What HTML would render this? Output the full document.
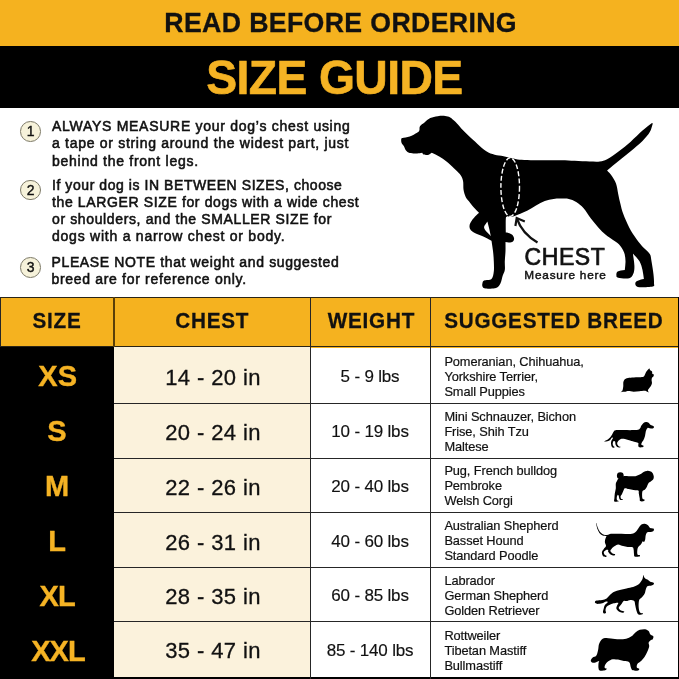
<!DOCTYPE html>
<html><head><meta charset="utf-8">
<style>
html,body{margin:0;padding:0;}
body{width:679px;height:679px;position:relative;overflow:hidden;background:#fff;font-family:"Liberation Sans",sans-serif;color:#111;}
.abs{position:absolute;white-space:nowrap;}
#top{left:0;top:0;width:679px;height:46px;background:#f5b21f;}
#band{left:0;top:45.5px;width:679px;height:62.5px;background:#000;}
#h1{left:164.3px;top:8px;font-weight:bold;font-size:26.7px;line-height:30px;letter-spacing:0.36px;color:#111;-webkit-text-stroke:0.3px #111;transform:scaleY(1.04);transform-origin:0 50%;}
#h2{left:206.2px;top:50.7px;font-weight:bold;font-size:46.3px;line-height:52px;color:#f5b324;letter-spacing:-0.6px;-webkit-text-stroke:0.6px #f5b324;transform:scaleY(1.04);transform-origin:0 50%;}
.ins{left:52px;font-size:14px;line-height:17.3px;letter-spacing:0.68px;color:#111;white-space:nowrap;-webkit-text-stroke:0.55px #111;}
.num{width:18.7px;height:18.7px;border-radius:50%;background:#f6f2da;border:1px solid #7d7a68;font-size:14px;line-height:19px;text-align:center;font-weight:normal;color:#111;-webkit-text-stroke:0.4px #111;}
/* table */
#thead{left:0;top:297px;width:679px;height:50.5px;background:#f5b21f;}
.hl{background:#2a2415;}
.th{top:309.1px;font-weight:bold;font-size:20.7px;line-height:24px;color:#111;letter-spacing:0.75px;-webkit-text-stroke:0.25px #111;transform:scaleY(1.04);transform-origin:0 50%;}
#sizecol{left:0;top:347.3px;width:114px;height:332px;background:#000;}
#chestcol{left:114px;top:347.3px;width:197px;height:330px;background:#fbf2dc;}
.sz{left:0;width:114px;text-align:center;font-weight:bold;font-size:29px;line-height:34px;color:#f5b324;-webkit-text-stroke:0.4px #f5b324;transform:scaleY(1.04);}
.ch{left:115px;width:196px;text-align:center;font-size:22px;line-height:24px;letter-spacing:0.4px;margin-top:0.5px;-webkit-text-stroke:0.3px #111;}
.wt{left:310px;width:120px;text-align:center;font-size:17px;line-height:20px;letter-spacing:-0.18px;margin-top:0.6px;-webkit-text-stroke:0.15px #111;}
.br{left:444.4px;font-size:12.8px;line-height:15.2px;letter-spacing:-0.1px;margin-top:0;-webkit-text-stroke:0.2px #111;}
.rl{left:114px;width:565px;height:1.3px;background:#262626;}
.vl{top:297px;width:1.4px;height:382px;background:#262626;}
</style></head><body>
<div class="abs" id="top"></div>
<div class="abs" id="band"></div>
<div class="abs" id="h1">READ BEFORE ORDERING</div>
<div class="abs" id="h2">SIZE GUIDE</div>

<div class="abs num" style="left:20.3px;top:121.2px;">1</div>
<div class="abs ins" style="top:118px;"><span style="letter-spacing:0.720px">ALWAYS MEASURE your dog’s chest using</span><br><span style="letter-spacing:0.705px">a tape or string around the widest part, just</span><br><span style="letter-spacing:0.730px">behind the front legs.</span></div>
<div class="abs num" style="left:20.3px;top:179.6px;">2</div>
<div class="abs ins" style="top:176.5px;"><span style="letter-spacing:0.565px">If your dog is IN BETWEEN SIZES, choose</span><br><span style="letter-spacing:0.630px">the LARGER SIZE for dogs with a wide chest</span><br><span style="letter-spacing:0.630px">or shoulders, and the SMALLER SIZE for</span><br><span style="letter-spacing:0.760px">dogs with a narrow chest or body.</span></div>
<div class="abs num" style="left:20.3px;top:257.3px;">3</div>
<div class="abs ins" style="top:254px;left:51.5px;line-height:17px;"><span style="letter-spacing:0.630px">PLEASE NOTE that weight and suggested</span><br><span style="letter-spacing:0.680px">breed are for reference only.</span></div>

<svg class="abs" style="left:0;top:0" width="679" height="679" viewBox="0 0 679 679">
<path d="M401.2 139.5C401.3 138.7 401 138.5 402.4 138C403.8 137.5 407.2 137.4 409.7 136.5C412.1 135.6 415.5 133.8 417.1 132.8C418.7 131.8 418.8 131.7 419.3 130.6C419.8 129.5 419.1 127.5 420 126.2C420.9 124.9 422.8 123.8 424.5 122.5C426.2 121.2 428.1 119.1 430.3 118.1C432.5 117 435.2 116.6 437.7 116.2C440.2 115.8 443 115.7 445.1 115.9C447.2 116.1 448.5 116.4 450.2 117.4C451.9 118.4 453.5 120 455.4 121.8C457.2 123.6 459.1 126.1 461.3 128.4C463.5 130.7 465.9 133.2 468.6 135.8C471.3 138.4 474.6 141.3 477.5 143.9C480.4 146.5 483.4 149.4 486.3 151.2C489.2 153 491.8 153.9 494.7 154.7C497.6 155.5 500.2 155.5 503.6 156.2C507 156.9 511.9 158.3 515.3 158.9C518.7 159.5 520.3 159.7 524.2 159.9C528.1 160.1 532.8 160.1 538.9 160.2C545 160.2 555 160.1 561 160.2C567 160.3 570 160.6 574.7 160.8C579.5 161 585.3 161.4 589.5 161.5C593.7 161.6 596.9 161.9 599.8 161.5C602.7 161.1 603.9 161 607.1 159.3C610.3 157.6 615 154.1 618.9 151.2C622.8 148.3 626.8 145.1 630.7 141.7C634.6 138.3 639 133.7 642.5 130.6C646 127.5 648.8 125.5 652 123C652.3 123.2 652.5 123.3 652.8 123.5C651.8 126.4 651.5 129.2 649.8 132.1C648.1 135 645.7 137.7 642.5 140.9C639.3 144.1 634.6 147.9 630.7 151.2C626.8 154.5 622.8 157.6 618.9 160.8C615 164 611 167.2 607.1 170.4C608.6 172.1 610 173.3 611.5 175.5C613 177.7 614.9 180.5 616 183.6C617.1 186.7 617.5 190.5 618.2 193.9C618.9 197.3 619.5 200.4 620.4 203.8C621.2 207.2 621.8 210.2 623.3 214.1C624.8 218 627 223.2 629.2 227.4C631.4 231.6 634.2 235.8 636.6 239.2C639 242.6 641.7 245.6 643.9 248C646.1 250.4 648.5 251.7 649.8 253.9C651.1 256.1 650.9 257.9 651.5 261.3C652.1 264.7 653.1 270.8 653.5 274.5C653.9 278.2 654.1 281.4 654 283.4C653.9 285.4 655.2 285.9 652.8 286.5C650.4 287.1 642.3 287.3 639.5 287.2C636.7 287.1 636.4 286.5 635.8 285.6C635.2 284.7 635 283 635.8 282C636.5 281 638.9 280.3 640.3 279.8C641.6 279.3 642.7 279.2 643.9 278.9C643.4 276 643.2 273 642.5 270.1C641.8 267.2 641.1 264.1 639.5 261.3C637.9 258.6 635.1 256.2 632.9 253.6C633.4 257.6 634.3 262.3 634.4 265.7C634.5 269.1 634.2 271.7 633.3 273.8C632.4 275.9 631.7 277.5 629.2 278.2C626.7 278.9 620.3 278.3 618.2 277.8C616.1 277.3 616.5 276.3 616.4 275.3C616.3 274.3 616.3 272.5 617.7 271.6C619.1 270.7 622.4 270.6 624.8 270.1C625 267.2 625.6 264.2 625.5 261.3C625.4 258.4 625.2 255.2 624.1 252.4C623 249.6 620.8 246.4 618.9 244.3C617 242.2 615.2 241.5 613 239.9C610.8 238.3 608.2 236.9 605.7 234.8C603.2 232.7 600.8 230.1 598.3 227.4C595.8 224.7 593.3 221.8 590.9 218.6C588.5 215.4 586 211.1 583.6 208.3C581.2 205.5 578.7 203.6 576.2 202C573.7 200.4 571.1 199.6 568.8 199C566.5 198.4 565 198.6 562.5 198.6C560 198.6 556.6 198.5 553.6 198.9C550.6 199.3 547.7 200 544.8 201.1C541.9 202.2 539 203.9 536 205.5C533 207.1 530.1 209.2 527.1 210.7C524.1 212.2 520.9 213.4 518.3 214.4C515.7 215.4 513.6 216.5 511.7 216.8C509.8 217.1 508 216 507 216.4C506 216.8 506 216.6 505.8 219.3C505.6 222 505.8 228.2 505.8 232.6C506.7 232.7 507.4 232.6 508.5 233C509.6 233.4 511.3 233.9 512.2 234.8C513.1 235.7 514 237.3 514.1 238.4C514.2 239.5 513.7 240.7 512.9 241.4C512.1 242.1 510.4 242.3 509.2 242.4C508 242.5 506.7 242.2 505.5 242.1C505.5 245.1 505.6 247.8 505.5 251C505.4 254.2 504.9 258.1 504.8 261.3C504.7 264.5 505.2 267.7 504.8 270.1C504.4 272.6 503.3 273.8 502.6 276C501.9 278.2 501.5 281.4 500.4 283.4C499.3 285.4 498.4 287.2 496 288.1C493.6 289 487.9 288.7 485.7 288.5C483.5 288.3 483.2 287.9 482.7 287C482.1 286.1 482.1 284.5 482.4 283.4C482.6 282.3 482.7 281.1 484.2 280.4C485.7 279.6 489.9 280.4 491.5 278.9C493.1 277.4 493.4 274.5 493.8 271.6C494.2 268.7 493.9 264.7 493.8 261.3C493.7 257.9 493.4 254.4 493 251C492.6 247.6 492 244.1 491.5 240.7C490.5 240.2 490.1 239.9 488.6 239.2C487.1 238.4 484.9 237.2 482.7 236.2C480.5 235.2 477.3 234.3 475.3 233.3C473.3 232.3 471.9 231.5 470.9 230.3C469.9 229.1 469.4 227.5 469.5 225.9C469.6 224.3 470.6 222.5 471.7 220.8C472.8 219.1 474.9 216.9 476.1 215.6C477.3 214.2 478 213.7 479 212.7C477.3 211 475.6 209.5 473.9 207.5C472.2 205.5 470.1 202.7 468.7 200.9C467.3 199.1 466.6 198.8 465.7 196.9C464.8 195 463.9 192.2 463.5 189.5C463.1 186.8 463.6 183.3 463 180.7C462.4 178.1 461.3 176.2 459.8 174.1C458.3 172 456.1 170.3 453.9 168.2C451.7 166.1 448.9 163.5 446.5 161.5C444.1 159.5 441.6 157.9 439.2 156.4C436.8 154.9 434.3 153.9 431.8 152.7C430.6 153.4 429.5 154.6 428.1 154.9C426.8 155.2 424.7 154.9 423.7 154.5C422.7 154.1 422.7 153.3 422.2 152.7C420.5 152.9 419.2 153.3 417.1 153.4C415 153.5 411.6 153.5 409.7 153C407.8 152.5 407 151.7 406 150.5C405 149.3 404.5 147.3 403.8 146.1C403.1 144.9 402 144.2 401.6 143.1C401.2 142 401.1 140.3 401.2 139.5Z" fill="#000"/>
<path d="M487.4 221.5C486.3 223.7 483.6 225.7 484.2 228.1C484.8 230.5 488.6 233.5 490.8 236.2C490.3 233.8 489.9 231.3 489.3 228.9C488.7 226.5 488 224 487.4 221.5Z" fill="#fff"/>
<ellipse cx="510.2" cy="187.1" rx="9.3" ry="29.3" fill="none" stroke="#fff" stroke-width="1.4" stroke-dasharray="4.8 2.3"/>
<path d="M537.5 242.4C528 237 520.5 229 516.9 218.6" fill="none" stroke="#111" stroke-width="2.3"/>
<path d="M515.4 226L516.7 218L524.8 221.4" fill="none" stroke="#111" stroke-width="2.2" stroke-linejoin="miter"/>
<text x="524.6" y="265.2" font-family="Liberation Sans, sans-serif" font-size="23" letter-spacing="0.55" fill="#111" stroke="#111" stroke-width="0.7">CHEST</text>
<text x="524.3" y="278.9" font-family="Liberation Sans, sans-serif" font-size="11.8" letter-spacing="0.8" fill="#111" stroke="#111" stroke-width="0.45">Measure here</text>
</svg>
<div class="abs" id="thead"></div>
<div class="abs" id="sizecol"></div>
<div class="abs" id="chestcol"></div>

<div class="abs th" style="left:32.5px;">SIZE</div>
<div class="abs th" style="left:175.3px;">CHEST</div>
<div class="abs th" style="left:327.8px;">WEIGHT</div>
<div class="abs th" style="left:444.2px;letter-spacing:0.75px;">SUGGESTED BREED</div>

<div class="abs sz" style="top:359px;left:0.7px;">XS</div>
<div class="abs sz" style="top:414px;">S</div>
<div class="abs sz" style="top:469px;">M</div>
<div class="abs sz" style="top:524px;">L</div>
<div class="abs sz" style="top:579px;letter-spacing:-0.8px;left:0.2px;">XL</div>
<div class="abs sz" style="top:634px;letter-spacing:-0.9px;left:1px;">XXL</div>

<div class="abs ch" style="top:365px;">14 - 20 in</div>
<div class="abs ch" style="top:420px;">20 - 24 in</div>
<div class="abs ch" style="top:475px;">22 - 26 in</div>
<div class="abs ch" style="top:530px;">26 - 31 in</div>
<div class="abs ch" style="top:584px;">28 - 35 in</div>
<div class="abs ch" style="top:638.3px;">35 - 47 in</div>

<div class="abs wt" style="top:366px;">5 - 9 lbs</div>
<div class="abs wt" style="top:421px;">10 - 19 lbs</div>
<div class="abs wt" style="top:476px;">20 - 40 lbs</div>
<div class="abs wt" style="top:531px;">40 - 60 lbs</div>
<div class="abs wt" style="top:585px;">60 - 85 lbs</div>
<div class="abs wt" style="top:640px;">85 - 140 lbs</div>

<div class="abs br" style="top:354px;">Pomeranian, Chihuahua,<br>Yorkshire Terrier,<br>Small Puppies</div>
<div class="abs br" style="top:408.5px;">Mini Schnauzer, Bichon<br>Frise, Shih Tzu<br>Maltese</div>
<div class="abs br" style="top:463px;">Pug, French bulldog<br>Pembroke<br>Welsh Corgi</div>
<div class="abs br" style="top:518px;">Australian Shepherd<br>Basset Hound<br>Standard Poodle</div>
<div class="abs br" style="top:573px;">Labrador<br>German Shepherd<br>Golden Retriever</div>
<div class="abs br" style="top:628px;">Rottweiler<br>Tibetan Mastiff<br>Bullmastiff</div>

<svg class="abs" style="left:0;top:0" width="679" height="679" viewBox="0 0 679 679" fill="#000">
<path d="M620.7 392.2C621.3 391.6 622.1 391.4 622.5 390.3C622.9 389.2 623.2 387.2 623.3 385.9C623.4 384.5 623.1 383.2 623.3 382.2C623.5 381.2 623.8 380.4 624.4 379.7C625 379 625.6 378.6 626.9 378.2C628.2 377.8 630 377.7 632.1 377.5C634.2 377.3 637.6 377.3 639.5 377.2C641.4 377.1 642.6 377.1 643.5 376.7C644.4 376.2 644.6 375.3 645 374.5C645.4 373.7 645.6 372.7 646.1 371.9C646.6 371.1 647.4 370.3 647.9 369.7C648.4 369.1 648.9 368.8 649.4 368.3C649.6 368.9 649.7 369.6 650.1 370.1C650.5 370.7 651.6 371 652 371.6C652.4 372.2 652 373.3 652.3 373.8C652.6 374.3 653.6 374.1 653.8 374.5C654 374.9 653.7 375.8 653.4 376.4C653.1 376.9 652.3 377.1 652 377.8C651.7 378.5 651.6 379.5 651.6 380.4C651.6 381.3 652.1 382.1 652 383C651.9 383.9 651.4 385 650.9 385.9C650.4 386.8 649.5 387.8 649 388.5C648.5 389.2 647.9 389.6 647.9 390.3C647.9 391 648.4 391.8 648.7 392.6C648.1 392.2 647.5 391.8 646.8 391.5C646.1 391.2 645.8 390.8 644.6 390.7C643.4 390.6 641.3 391 639.5 391.2C637.7 391.4 635.5 391.8 633.6 391.8C631.8 391.8 629.8 391.1 628.4 391.1C627 391.1 626.4 391.6 625.5 391.7C624.6 391.8 623.7 391.7 622.9 391.8C622.1 391.9 621.4 392.1 620.7 392.2Z"/>
<path d="M604.1 441.3C605.5 440.5 607.2 440 608.4 439C609.6 438 610.6 436.6 611.5 435.4C612.4 434.2 612.9 432.6 613.6 431.8C614.3 431 613.9 430.6 615.6 430.3C617.3 430 621 430.1 623.9 430.1C626.8 430.1 630.5 430.2 633.1 430.1C635.7 430 637.9 429.9 639.3 429.2C640.7 428.4 640.7 426.6 641.4 425.6C642.1 424.6 642.7 423.6 643.5 423C644.3 422.4 645.1 422.1 646 422C646.9 421.9 647.8 422.2 648.6 422.7C649.4 423.2 649.9 424.5 650.7 425.1C651.5 425.7 652.7 425.8 653.2 426.1C653.8 426.5 654.1 426.8 654 427.2C653.9 427.6 653.4 428.3 652.7 428.5C652 428.7 650.5 428.3 649.6 428.2C648.8 428.1 648.2 427.5 647.6 427.9C647 428.3 646.4 429.5 646 430.8C645.6 432.1 645.4 434.3 645 435.9C644.6 437.4 644 439 643.5 440.1C643 441.2 642.2 441.8 641.9 442.6C641.5 443.4 641.1 444.2 641.4 444.7C641.7 445.2 643.2 445.3 643.5 445.7C643.8 446.1 643.6 446.8 642.9 447.1C642.2 447.4 640.1 447.5 639.3 447.3C638.5 447.1 638.5 446.4 638.3 445.7C638.1 445 638.8 443.7 638.3 443.1C637.8 442.5 636.6 442.5 635.2 442.1C633.8 441.7 631.8 441.1 630.1 440.6C628.4 440.1 626.5 439.3 624.9 439C623.3 438.7 621.9 438.6 620.8 439C619.7 439.4 618.8 440.3 618.2 441.1C617.6 441.9 617.1 442.9 617.2 443.7C617.3 444.5 618.1 445.7 618.7 446.2C619.3 446.7 620.4 446.6 620.6 446.8C620.8 447 620.3 447.4 619.7 447.5C619.1 447.6 617.9 447.6 617.2 447.1C616.5 446.6 616 445.6 615.6 444.7C615.2 443.8 615.4 442.2 615.1 441.6C614.8 441 614 440.8 613.6 441.1C613.2 441.5 612.7 442.9 612.7 443.7C612.7 444.5 613.2 445.6 613.6 446.2C614 446.8 614.9 446.8 614.8 447.1C614.7 447.4 613.5 448 613 447.8C612.5 447.6 611.8 447 611.5 446.2C611.2 445.4 611 444 611 443.1C611 442.2 611.2 441.5 611.5 440.6C611.8 439.8 612.9 438.5 613 438C613.1 437.5 612.3 437.7 612 437.5C611.1 438.5 610.5 439.9 609.4 440.6C608.3 441.3 606.2 441.5 605.3 441.6C604.4 441.7 604.5 441.4 604.1 441.3Z"/>
<path d="M623.5 476.2C624.9 475.9 626.7 476.2 628.7 476.2C630.7 476.2 633.5 476.5 635.4 476.2C637.3 475.9 638.8 475 640.2 474.3C641.6 473.6 642.5 472.5 643.6 471.9C644.7 471.3 645.7 471 646.9 470.9C648.1 470.8 649.7 471 650.7 471.4C651.7 471.8 652.2 472.4 652.7 473.3C653.2 474.2 653.7 475.7 653.8 476.7C653.9 477.7 653.6 478.7 653.1 479.5C652.6 480.3 651.5 480.9 650.7 481.5C649.9 482.1 648.9 482.5 648.3 483.4C647.7 484.3 647.4 485.7 646.9 486.7C646.4 487.7 645.7 488.9 645 489.6C644.3 490.3 643.1 490.1 642.6 491C642.1 491.9 642.1 494 642.1 495.3C642.1 496.6 642.2 498 642.6 498.7C643 499.4 644.3 499.2 644.5 499.6C644.7 500 644.7 500.9 644 501.1C643.3 501.4 640.9 501.6 640.2 501.1C639.5 500.6 639.9 499.5 639.7 498.2C639.5 496.9 639 494.7 638.8 493.4C638.6 492.1 639.2 491.1 638.3 490.5C637.4 489.9 635.1 490.3 633.5 490.1C631.9 489.9 630.1 489.4 628.7 489.1C627.3 488.8 625.8 488 624.9 488.2C624 488.4 624 489.6 623.5 490.5C623 491.4 622.5 492.9 622 493.9C621.5 494.9 620.8 495.5 620.6 496.3C620.5 497.1 620.7 498.2 621.1 498.7C621.5 499.2 622.9 499.2 623 499.4C623.1 499.6 622.1 500.1 621.5 500.1C620.9 500.1 620.1 499.9 619.6 499.2C619.1 498.5 619 496.5 618.7 495.8C618.4 495.1 618 494.7 617.7 494.9C617.4 495.1 616.9 496.3 616.8 497.2C616.7 498.1 616.7 499.4 617 500.1C617.3 500.8 619.1 501.1 618.7 501.3C618.3 501.6 615.1 502.1 614.4 501.6C613.7 501.1 614.3 499.6 614.4 498.2C614.5 496.8 614.6 495 614.8 493.4C615 491.8 615.6 490.2 615.8 488.6C616 487 615.6 485.2 615.8 483.8C616 482.4 616.8 481.3 617.2 480.5C617.6 479.7 617.7 479.5 618.2 479.1C618.8 478.7 619.6 478.5 620.5 478C621.4 477.5 622.1 476.5 623.5 476.2Z"/>
<path d="M596.4 522.7C596.8 524.3 597.1 525.9 597.7 527.4C598.3 528.9 599 530.6 599.9 531.8C600.8 533 602.1 534 603.3 534.5C604.5 535 605.8 535.2 607.1 535.1C608.4 535 609.2 534 611 533.8C612.8 533.6 615.2 533.8 617.6 533.8C620 533.8 622.9 534 625.3 534C627.7 534 630.2 534.2 632 533.8C633.8 533.4 634.7 532.8 635.8 531.8C636.9 530.8 637.7 529.1 638.6 527.9C639.5 526.7 640.4 525.3 641.4 524.6C642.4 523.9 643.6 523.7 644.7 523.8C645.8 523.9 647.1 524.5 648 525.2C648.9 525.9 649.3 527.4 650.2 527.9C651.1 528.4 652.9 528.1 653.5 528.5C654.1 528.9 654.1 530 653.8 530.5C653.5 531 653 531.5 651.9 531.8C650.8 532.1 648.4 531.8 647.4 532.3C646.4 532.8 646.2 533.9 645.8 535.1C645.4 536.3 645.5 538.4 645.2 539.5C644.9 540.6 644.5 541.6 644.1 541.9C643.7 542.2 643.3 540.8 642.8 541.2C642.2 541.6 641.6 543.5 640.8 544.5C640 545.5 638.7 546.2 638.1 547.2C637.5 548.2 637.4 549.4 637.3 550.6C637.2 551.8 637.1 553.6 637.5 554.4C637.9 555.2 639.6 554.8 639.9 555.2C640.2 555.6 640.1 556.4 639.2 556.6C638.3 556.8 635.6 557.1 634.7 556.6C633.8 556.1 634.2 555.1 634 553.9C633.8 552.7 633.9 550.6 633.6 549.5C633.4 548.4 633.5 547.6 632.5 547.2C631.5 546.8 629.2 547.2 627.6 547C626 546.8 624.7 546.5 623.1 546.1C621.5 545.7 619.6 544.5 618.2 544.5C616.8 544.5 616 545.4 614.9 546.1C613.8 546.8 612.2 548.1 611.5 548.9C610.8 549.7 610.2 550.3 610.4 551.1C610.6 551.9 611.8 553.1 612.6 553.6C613.4 554.1 615 554.1 615.2 554.4C615.4 554.7 614.4 555.4 613.7 555.5C613 555.6 611.9 555.4 611 554.8C610.1 554.2 608.7 552.5 608.2 551.7C607.7 550.9 608.6 550.3 608.2 550C607.8 549.7 606.7 549.6 606 550C605.3 550.4 604 551.4 603.8 552.2C603.6 553 604.4 554.4 604.9 555C605.4 555.6 606.7 555.6 606.8 555.9C606.9 556.2 606.1 556.9 605.5 556.9C604.9 556.9 603.6 556.9 603 556.1C602.4 555.3 601.8 553.4 601.9 552.2C602 551 603.1 549.9 603.8 548.9C604.5 547.9 605.8 547.2 606 546.1C606.2 545 605 543.6 604.9 542.3C604.8 541 605.2 539.4 605.5 538.4C605.8 537.4 606.2 536.9 606.6 536.2C605.3 536 603.9 536.2 602.7 535.6C601.5 535 600.3 534.1 599.4 532.9C598.5 531.7 597.8 530.1 597.2 528.5C596.7 526.9 596.5 525.2 596.1 523.5C596.2 523.2 596.3 523 596.4 522.7Z"/>
<path d="M595 601.7C595.2 601.3 595.4 600.9 596.6 600.6C597.8 600.3 600.5 600.4 602.2 600C603.9 599.6 605.2 599.3 606.6 598.4C608 597.5 609.1 595.6 610.4 594.5C611.7 593.4 612.7 592.4 614.3 591.7C615.9 591 617.8 590.7 619.8 590.1C621.8 589.5 624.3 588.9 626.5 588.4C628.7 587.9 631.3 587.5 633.1 587C634.9 586.5 636.3 585.9 637.5 585.1C638.7 584.3 639.5 583.4 640.3 582.4C641.1 581.4 642 580.3 642.5 579C643 577.7 643 576.2 643.2 574.8C643.7 575.8 644 577.1 644.7 577.9C645.4 578.7 646.5 579 647.4 579.6C648.3 580.2 649.1 581.2 650.2 581.8C651.3 582.3 653.3 582.4 653.8 582.9C654.3 583.4 653.7 584.3 653.2 584.8C652.7 585.3 651.8 585.5 650.8 585.7C649.8 585.9 648.2 585.6 647.4 586.2C646.6 586.8 646.2 588.3 645.8 589.5C645.3 590.7 645.4 592.1 644.7 593.4C644.1 594.7 642.8 596.2 641.9 597.3C641 598.4 639.8 598.6 639.2 600C638.7 601.4 638.6 603.9 638.6 605.6C638.6 607.4 638.9 609.3 639.2 610.5C639.5 611.7 639.7 612.2 640.3 612.7C640.9 613.2 642.7 613 643 613.3C643.3 613.6 642.7 614.5 641.9 614.6C641.1 614.8 639 614.9 638.1 614.2C637.2 613.5 636.9 611.9 636.4 610.5C635.9 609.1 635.7 607.2 635.3 605.6C634.9 604 635 602 634.2 601.1C633.4 600.2 631.6 600 630.3 600C629 600 627.6 601 626.5 601.1C625.4 601.2 624.5 600.4 623.7 600.9C622.9 601.4 622.3 602.8 621.5 603.9C620.7 605 618.8 606.7 618.7 607.8C618.6 608.9 620 609.9 620.9 610.5C621.8 611.1 623.8 611.2 624.2 611.6C624.6 612 623.8 612.6 623.1 612.7C622.4 612.8 620.9 612.6 619.8 612C618.7 611.4 617 610 616.5 608.9C616 607.8 616.8 606.6 617.1 605.6C617.4 604.6 618.8 603.2 618.2 602.8C617.6 602.4 615.2 602.9 613.7 603.3C612.2 603.7 610.5 604.4 609.3 605C608.1 605.6 607.2 605.9 606.6 606.7C606 607.5 605.6 609 605.5 610C605.4 611 606.2 612.1 606 612.7C605.8 613.3 604.9 613.6 604.4 613.5C603.9 613.4 603.1 613.1 603 612.2C602.9 611.3 603.5 609.5 603.8 608.3C604.1 607.1 604.2 606 604.9 605C605.5 604 607.6 602.8 607.7 602.2C607.8 601.7 606.4 601.5 605.5 601.7C604.6 601.9 603.5 602.9 602.2 603.3C600.9 603.7 598.9 603.9 597.7 603.9C596.6 603.9 595.8 603.5 595.3 603.1C594.8 602.7 594.8 602.1 595 601.7Z"/>
<path d="M590.9 659.9C591.2 659.2 591.8 658.2 592.7 657.5C593.6 656.8 595.3 657 596.2 655.8C597.1 654.6 597.5 652.4 598 650.5C598.5 648.6 598.4 646.3 598.9 644.6C599.4 642.9 599.9 641.5 600.9 640.4C601.9 639.3 603.3 638.4 605 638.1C606.7 637.8 608.5 638.2 610.9 638.4C613.3 638.6 616.7 639.2 619.2 639.3C621.8 639.3 624.2 639.2 626.2 638.7C628.2 638.2 629.9 637.4 631.5 636.3C633.1 635.2 634.3 633.3 635.7 632.2C637.1 631.1 638.2 630.3 639.8 629.8C641.4 629.3 643.6 629 645.1 629.2C646.6 629.4 647.7 630.1 648.6 631C649.5 631.9 649.6 633.6 650.4 634.5C651.2 635.4 652.9 635.5 653.3 636.3C653.7 637.1 653.2 638.6 652.7 639.3C652.2 640 651.1 639.8 650.4 640.4C649.7 641 648.8 641.8 648.6 642.8C648.4 643.8 649.4 644.8 649.2 646.3C649 647.8 648.2 649.8 647.4 651.6C646.6 653.4 645.7 655.2 644.5 656.9C643.3 658.6 641.6 660.4 640.4 661.6C639.2 662.8 638 663 637.4 664C636.8 665 636.5 666.7 636.8 667.5C637.1 668.3 639 668.2 639.2 668.7C639.4 669.2 639.1 670.2 638 670.5C636.9 670.8 633.9 670.7 632.7 670.2C631.5 669.7 631.5 668.8 630.9 667.5C630.3 666.2 630.4 663.3 629.2 662.2C628 661.1 625.8 661.5 623.9 661.1C622 660.7 619.9 659.9 618 659.6C616.1 659.3 614.4 659 612.7 659.3C611 659.6 609.3 660.6 608 661.6C606.7 662.6 605.5 664.2 605 665.2C604.5 666.2 604.5 667.3 604.8 667.9C605.1 668.5 606.8 668.3 606.8 668.7C606.8 669.1 606.2 669.9 605 670.2C603.8 670.5 600.8 670.9 599.7 670.5C598.6 670.1 598.7 669.3 598.5 668.1C598.3 666.9 598.4 664.6 598.5 663.4C598.6 662.2 599.5 661.3 599.1 661.1C598.7 660.9 597.3 661.9 596.2 662.2C595.1 662.5 593.6 662.9 592.7 662.8C591.9 662.7 591.4 662.1 591.1 661.6C590.8 661.1 590.6 660.6 590.9 659.9Z"/>
<circle cx="620.3" cy="475.7" r="3.4"/>
</svg>
<!-- lines -->
<div class="abs hl" style="left:0;top:297px;width:679px;height:1px;"></div>
<div class="abs hl" style="left:0;top:346.2px;width:679px;height:1.2px;"></div>
<div class="abs rl" style="top:402.9px;"></div>
<div class="abs rl" style="top:457.5px;"></div>
<div class="abs rl" style="top:511.8px;"></div>
<div class="abs rl" style="top:566.7px;"></div>
<div class="abs rl" style="top:620.9px;"></div>
<div class="abs" style="left:0;top:677px;width:679px;height:2px;background:#000;"></div>
<div class="abs vl" style="left:0;height:50px;"></div>
<div class="abs vl" style="left:113.2px;height:50px;background:#5a3f08;"></div>
<div class="abs vl" style="left:309.9px;"></div>
<div class="abs vl" style="left:429.7px;"></div>
<div class="abs" style="left:677.5px;top:297px;width:1.5px;height:382px;background:#000;"></div>
</body></html>
